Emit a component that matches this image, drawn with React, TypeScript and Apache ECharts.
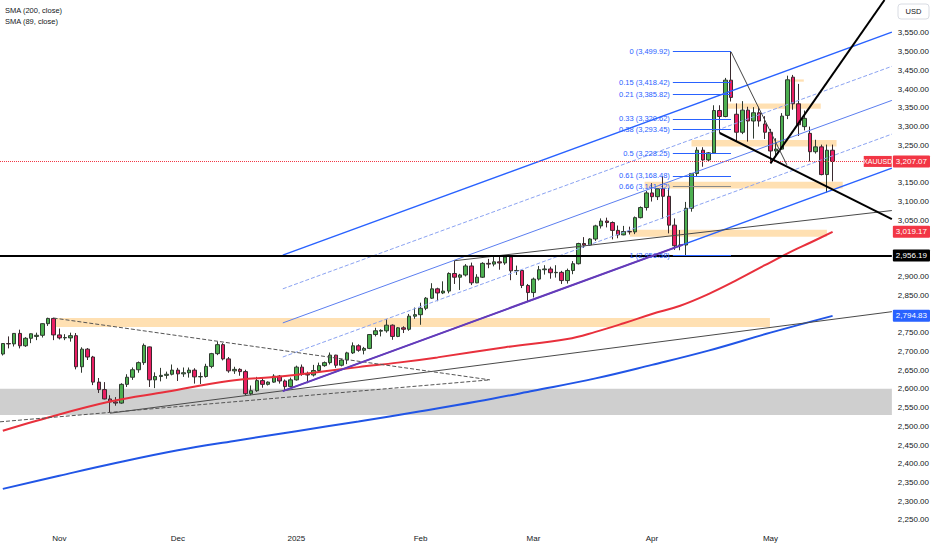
import React, { useEffect, useRef } from "react";
import * as echarts from "echarts";

// ---- calendar (trading days) ----
const monthDays: [string, number[]][] = [
  ["2024-10", [18, 21, 22, 23, 24, 25, 28, 29, 30, 31]],
  ["2024-11", [1, 4, 5, 6, 7, 8, 11, 12, 13, 14, 15, 18, 19, 20, 21, 22, 25, 26, 27, 28, 29]],
  ["2024-12", [2, 3, 4, 5, 6, 9, 10, 11, 12, 13, 16, 17, 18, 19, 20, 23, 24, 26, 27, 30, 31]],
  ["2025-01", [2, 3, 6, 7, 8, 9, 10, 13, 14, 15, 16, 17, 20, 21, 22, 23, 24, 27, 28, 29, 30, 31]],
  ["2025-02", [3, 4, 5, 6, 7, 10, 11, 12, 13, 14, 17, 18, 19, 20, 21, 24, 25, 26, 27, 28]],
  ["2025-03", [3, 4, 5, 6, 7, 10, 11, 12, 13, 14, 17, 18, 19, 20, 21, 24, 25, 26, 27, 28, 31]],
  ["2025-04", [1, 2, 3, 4, 7, 8, 9, 10, 11, 14, 15, 16, 17, 21, 22, 23, 24, 25, 28, 29, 30]],
  ["2025-05", [1, 2, 5, 6, 7, 8, 9, 12, 13, 14, 15, 16, 19, 20, 21, 22, 23, 26, 27, 28, 29, 30]],
];
const categories: string[] = monthDays.flatMap(([m, days]) =>
  days.map((d) => `${m}-${String(d).padStart(2, "0")}`)
);
const monthLabels: Record<string, string> = {
  "2024-11-01": "Nov",
  "2024-12-02": "Dec",
  "2025-01-02": "2025",
  "2025-02-03": "Feb",
  "2025-03-03": "Mar",
  "2025-04-01": "Apr",
  "2025-05-01": "May",
};

// ---- XAUUSD daily OHLC ----
const opens = [
  2693, 2721, 2720, 2748, 2715, 2735, 2740, 2743, 2774, 2788,
  2744, 2736, 2736, 2742, 2659, 2706, 2685, 2618, 2598, 2573, 2565, 2562, 2612, 2631, 2651, 2670, 2712, 2624, 2633, 2636, 2639,
  2650, 2640, 2643, 2650, 2632, 2633, 2660, 2694, 2718, 2680, 2648, 2652, 2646, 2587, 2595, 2622, 2612, 2618, 2634, 2621, 2606,
  2624, 2658, 2639, 2637, 2649, 2662, 2670, 2690, 2663, 2677, 2696, 2715, 2703, 2708, 2745, 2754, 2755, 2770, 2740, 2763, 2759, 2794,
  2798, 2815, 2842, 2867, 2856, 2861, 2908, 2898, 2904, 2928, 2883, 2898, 2935, 2933, 2939, 2936, 2952, 2915, 2916, 2876,
  2857, 2893, 2918, 2920, 2910, 2911, 2889, 2916, 2934, 2988, 2984, 3000, 3035, 3048, 3044, 3023, 3011, 3020, 3019, 3057, 3084,
  3123, 3113, 3134, 3114, 3037, 2982, 2984, 3082, 3175, 3237, 3211, 3230, 3343, 3327, 3424, 3333, 3285, 3344, 3315, 3337, 3307,
  3285, 3235, 3240, 3330, 3432, 3361, 3300, 3282, 3233, 3246, 3172, 3237,
];
const highs = [
  2722, 2740, 2749, 2758, 2738, 2748, 2750, 2775, 2790, 2790,
  2761, 2746, 2750, 2749, 2711, 2709, 2688, 2629, 2618, 2583, 2578, 2615, 2639, 2657, 2673, 2721, 2713, 2644, 2656, 2646, 2665,
  2656, 2657, 2657, 2655, 2644, 2667, 2696, 2726, 2722, 2685, 2659, 2655, 2651, 2609, 2632, 2631, 2620, 2639, 2637, 2625, 2630,
  2662, 2665, 2646, 2664, 2670, 2673, 2697, 2691, 2680, 2699, 2724, 2719, 2712, 2746, 2763, 2759, 2786, 2772, 2765, 2767, 2800, 2817,
  2830, 2845, 2882, 2870, 2887, 2911, 2942, 2907, 2933, 2937, 2906, 2938, 2947, 2955, 2954, 2957, 2956, 2929, 2917, 2880,
  2897, 2928, 2930, 2926, 2930, 2915, 2921, 2941, 2990, 3005, 3002, 3038, 3055, 3057, 3047, 3036, 3035, 3033, 3060, 3087, 3128,
  3149, 3136, 3167, 3136, 3055, 3024, 3099, 3176, 3245, 3245, 3232, 3357, 3357, 3430, 3499.92, 3362, 3368, 3353, 3352, 3353, 3328,
  3294, 3269, 3336, 3436, 3438, 3414, 3343, 3300, 3265, 3252, 3252, 3252,
];
const lows = [
  2689, 2708, 2713, 2708, 2712, 2722, 2730, 2737, 2768, 2730,
  2732, 2730, 2726, 2652, 2643, 2677, 2610, 2589, 2572, 2536, 2555, 2560, 2605, 2624, 2643, 2664, 2605, 2602, 2620, 2627, 2636,
  2621, 2632, 2630, 2614, 2613, 2630, 2655, 2690, 2676, 2643, 2640, 2635, 2583, 2583, 2592, 2603, 2609, 2616, 2614, 2596, 2604,
  2622, 2635, 2615, 2633, 2644, 2659, 2665, 2656, 2660, 2666, 2693, 2699, 2692, 2706, 2740, 2740, 2750, 2731, 2738, 2749, 2755, 2787,
  2771, 2810, 2840, 2834, 2853, 2855, 2880, 2864, 2900, 2877, 2882, 2896, 2922, 2927, 2918, 2931, 2890, 2904, 2869, 2833,
  2844, 2889, 2905, 2894, 2897, 2880, 2881, 2906, 2932, 2976, 2982, 2995, 3028, 3031, 2999, 3002, 3010, 3012, 3013, 3055, 3076,
  3100, 3104, 3054, 3015, 2971, 2970, 2957, 3073, 3167, 3193, 3208, 3229, 3283, 3325, 3367, 3260, 3280, 3260, 3268, 3300, 3267,
  3202, 3222, 3239, 3320, 3345, 3275, 3290, 3207, 3228, 3170, 3124, 3154,
];
const closes = [
  2721, 2720, 2748, 2715, 2735, 2747, 2743, 2774, 2788, 2744,
  2736, 2737, 2742, 2659, 2706, 2685, 2618, 2598, 2573, 2565, 2562, 2612, 2631, 2651, 2670, 2716, 2624, 2633, 2636, 2639, 2650,
  2640, 2643, 2650, 2632, 2633, 2660, 2694, 2718, 2680, 2648, 2652, 2646, 2587, 2595, 2622, 2612, 2618, 2634, 2621, 2606, 2624,
  2658, 2639, 2637, 2649, 2662, 2670, 2690, 2663, 2677, 2696, 2715, 2703, 2708, 2745, 2755, 2756, 2770, 2740, 2763, 2759, 2794, 2798,
  2815, 2842, 2867, 2856, 2861, 2908, 2898, 2904, 2928, 2883, 2898, 2935, 2933, 2939, 2936, 2952, 2915, 2916, 2876, 2857,
  2893, 2918, 2920, 2910, 2911, 2889, 2916, 2934, 2988, 2984, 3000, 3035, 3048, 3044, 3023, 3011, 3020, 3019, 3057, 3084, 3123,
  3113, 3134, 3114, 3037, 2982, 2984, 3082, 3175, 3237, 3211, 3230, 3343, 3327, 3424, 3378, 3285, 3344, 3315, 3337, 3315, 3285,
  3235, 3240, 3328, 3425, 3361, 3305, 3322, 3233, 3246, 3172, 3237, 3207.07,
];

// ---- moving averages: [bar index, value] ----
const sma200 = [
  [0, 2333], [10, 2368], [20, 2402], [31, 2436], [41, 2461], [52, 2487], [63, 2513],
  [74, 2540], [84, 2566], [94, 2595], [105, 2628], [115, 2664], [125, 2702], [136, 2750], [147, 2794.83],
];
const sma89 = [
  [0, 2488], [6, 2515], [19, 2566], [29, 2592], [40, 2621], [50, 2634], [56, 2645], [63, 2658],
  [70, 2670], [77, 2684], [89, 2711], [100, 2733], [105, 2752], [110, 2775], [115, 2800], [120, 2822],
  [125, 2853], [130, 2890], [135, 2930], [140, 2969], [143, 2990], [147, 3019.17],
];

// ---- drawings: [bar index, price] ----
const channelTop = [[49.6, 2957], [157.5, 3552]];
const channelUpperDash = [[49.6, 2867], [157.5, 3461]];
const channelMid = [[49.6, 2776], [157.5, 3370]];
const channelLowerDash = [[49.6, 2685], [157.5, 3280]];
const channelBottom = [[49.6, 2594], [157.5, 3189]];
const purpleTrend = [[49.6, 2594], [120.5, 2985]];
const nov14Trend = [[19, 2535], [157.5, 2806]];
const feb11Trend = [[80, 2942], [157.5, 3076]];
const triangleUpper = [[9, 2789], [86.3, 2624]];
const triangleLower = [[-0.5, 2512], [86.3, 2624]];
const apr17Line = [[127, 3283], [157.5, 3053]];
const may1Line = [[136, 3202], [156.2, 3638]];
const apr22Line = [[129, 3499.92], [138.9, 3198]];

const fibStart = 118.7;
const fibEnd = 129;
const fibLevels = ["0", "0.15", "0.21", "0.33", "0.38", "0.5", "0.61", "0.66", "1"];
const fibPrices = [3499.92, 3418.42, 3385.82, 3320.62, 3293.45, 3228.25, 3168.48, 3141.32, 2956.58];

// zones: [x1, price1, x2, price2]
const orangeZones = [
  [8.9, 2789, 135.9, 2765],
  [111.1, 3025, 146, 3006],
  [113.7, 3153, 148.8, 3135],
  [122, 3264, 147.7, 3247],
  [128.3, 3362, 144.9, 3348],
  [139.2, 3426, 141.9, 3420],
];
const grayZone = [-0.5, 2600, 157.5, 2530];

const lastPrice = 3207.07;
const keyLevel = 2956.19;
const sma89Last = 3019.17;
const sma200Last = 2794.83;
// axis ticks covered by the coloured price boxes
const coveredTicks = [3200, 3000, 2950, 2800];
const topTick = 3550;

const FONT = "Liberation Sans, Arial, sans-serif";
const fmt = (v: number) =>
  v.toLocaleString("en-US", { minimumFractionDigits: 2, maximumFractionDigits: 2 });

const priceBox = (bg: string) => ({
  show: true,
  position: "end" as const,
  distance: 1,
  backgroundColor: bg,
  color: "#ffffff",
  opacity: 1,
  fontSize: 8,
  fontFamily: FONT,
  padding: [2, 3, 2, 3],
  borderRadius: 1,
});

const hiddenLine = { color: "rgba(0,0,0,0)", width: 0, type: "solid" };

function seg(data: number[][], color: string, width: number, type: string = "solid", z = 4) {
  return {
    type: "line",
    xAxisIndex: 1,
    yAxisIndex: 0,
    data,
    symbol: "none",
    silent: true,
    z,
    lineStyle: { color, width, type },
  };
}

export default function App() {
  const ref = useRef<HTMLDivElement>(null);
  useEffect(() => {
    if (!ref.current) return;
    const chart = echarts.init(ref.current, undefined, { renderer: "svg" });
    const candleData = closes.map((c, i) => [opens[i], c, lows[i], highs[i]]);

    const option: any = {
      animation: false,
      backgroundColor: "#ffffff",
      textStyle: { fontFamily: FONT },
      grid: { left: 0, right: 40, top: 0, bottom: 11.3, containLabel: false },
      xAxis: [
        {
          type: "category",
          data: categories,
          boundaryGap: true,
          axisLine: { show: false },
          axisTick: { show: false },
          splitLine: { show: false },
          axisLabel: {
            interval: (_i: number, v: string) => v in monthLabels,
            formatter: (v: string) => monthLabels[v] ?? "",
            color: "#131722",
            fontSize: 8,
            fontFamily: FONT,
            margin: -4,
          },
        },
        { type: "value", min: -0.5, max: 157.5, show: false },
      ],
      yAxis: {
        type: "value",
        position: "right",
        min: 2200,
        max: 3638,
        interval: 50,
        axisLine: { show: false },
        axisTick: { show: false },
        splitLine: { show: false },
        axisLabel: {
          showMinLabel: false,
          showMaxLabel: false,
          margin: 6,
          color: "#131722",
          fontSize: 8,
          fontFamily: FONT,
          formatter: (v: number) =>
            v > topTick || coveredTicks.includes(v) ? "" : fmt(v),
        },
      },
      graphic: [
        { type: "text", left: 5, top: 6, style: { text: "SMA (200, close)", fontSize: 7.5, fontFamily: FONT, fill: "#131722" } },
        { type: "text", left: 5, top: 17, style: { text: "SMA (89, close)", fontSize: 7.5, fontFamily: FONT, fill: "#131722" } },
        { type: "rect", shape: { x: 898, y: 4, width: 31, height: 15, r: 3 }, style: { fill: "#ffffff", stroke: "#d9dce3", lineWidth: 1 } },
        { type: "text", x: 913.5, y: 11.5, style: { text: "USD", fontSize: 7.5, fontFamily: FONT, fill: "#131722", align: "center", verticalAlign: "middle" } },
      ],
      series: [
        {
          type: "line",
          xAxisIndex: 1,
          data: channelTop,
          symbol: "none",
          silent: true,
          z: 4,
          lineStyle: { color: "#2962ff", width: 1.4 },
          markArea: {
            silent: true,
            data: [
              [
                { coord: [grayZone[0], grayZone[1]], itemStyle: { color: "rgba(160,160,160,0.5)" } },
                { coord: [grayZone[2], grayZone[3]] },
              ],
              ...orangeZones.map((z) => [
                { coord: [z[0], z[1]], itemStyle: { color: "rgba(255,152,0,0.3)" } },
                { coord: [z[2], z[3]] },
              ]),
            ],
          },
        },
        {
          type: "candlestick",
          xAxisIndex: 0,
          data: candleData,
          barWidth: 4,
          z: 3,
          silent: true,
          itemStyle: {
            color: "#4caf50",
            color0: "#e91e63",
            borderColor: "#2f3a2f",
            borderColor0: "#3a2a2f",
            borderWidth: 1,
          },
          markLine: {
            silent: true,
            symbol: ["none", "none"],
            data: [
              {
                yAxis: lastPrice,
                lineStyle: { color: "#f23645", width: 1, type: "dotted" },
                label: { ...priceBox("#f23645"), formatter: () => fmt(lastPrice) },
              },
              {
                yAxis: keyLevel,
                lineStyle: { color: "#000000", width: 2, type: "solid" },
                label: { ...priceBox("#000000"), formatter: () => fmt(keyLevel) },
              },
              {
                yAxis: sma89Last,
                lineStyle: hiddenLine,
                label: { ...priceBox("#f23645"), formatter: () => fmt(sma89Last) },
              },
              {
                yAxis: sma200Last,
                lineStyle: hiddenLine,
                label: { ...priceBox("#2962ff"), formatter: () => fmt(sma200Last) },
              },
            ],
          },
          markPoint: {
            silent: true,
            data: [
              {
                coord: [155, lastPrice],
                symbol: "rect",
                symbolSize: [28, 11],
                itemStyle: { color: "#f23645" },
                label: { show: true, position: "inside", formatter: "XAUUSD", color: "#ffffff", fontSize: 7, fontFamily: FONT },
              },
            ],
          },
        },
        {
          type: "line",
          xAxisIndex: 1,
          data: sma200,
          smooth: 0.4,
          symbol: "none",
          silent: true,
          z: 4,
          lineStyle: { color: "#2155e6", width: 2 },
        },
        {
          type: "line",
          xAxisIndex: 1,
          data: sma89,
          smooth: 0.4,
          symbol: "none",
          silent: true,
          z: 4,
          lineStyle: { color: "#e8303c", width: 2 },
        },
        seg(channelUpperDash, "#8ba3f2", 1, "dashed"),
        seg(channelMid, "#5b7ef0", 1),
        seg(channelLowerDash, "#8ba3f2", 1, "dashed"),
        seg(channelBottom, "#2962ff", 1.4),
        {
          ...seg(purpleTrend, "#673ab7", 2, "solid", 5),
          markLine: {
            silent: true,
            symbol: ["none", "none"],
            label: {
              show: true,
              position: "start",
              distance: 3,
              color: "#2962ff",
              fontSize: 7.5,
              fontFamily: FONT,
              formatter: (p: any) => `${fibLevels[p.dataIndex]} (${fmt(fibPrices[p.dataIndex])})`,
            },
            lineStyle: { color: "#2962ff", width: 1, type: "solid" },
            data: fibPrices.map((p, i) => {
              const ls = { color: fibLevels[i] === "0.66" ? "#8a8a8a" : "#2962ff", width: 1, type: "solid" };
              return [
                { coord: [fibStart, p], lineStyle: ls },
                { coord: [fibEnd, p], lineStyle: ls },
              ];
            }),
          },
        },
        seg(nov14Trend, "#4a4a4a", 1),
        seg(feb11Trend, "#4a4a4a", 1),
        seg(triangleUpper, "#555555", 1, "dashed"),
        seg(triangleLower, "#555555", 1, "dashed"),
        seg(apr17Line, "#000000", 2, "solid", 6),
        seg(may1Line, "#000000", 2, "solid", 6),
        seg(apr22Line, "#444444", 1, "solid", 6),
      ],
    };
    chart.setOption(option);
    return () => chart.dispose();
  }, []);

  return (
    <div
      ref={ref}
      style={{ position: "fixed", left: 0, top: 0, width: 932, height: 550, background: "#ffffff" }}
    />
  );
}
